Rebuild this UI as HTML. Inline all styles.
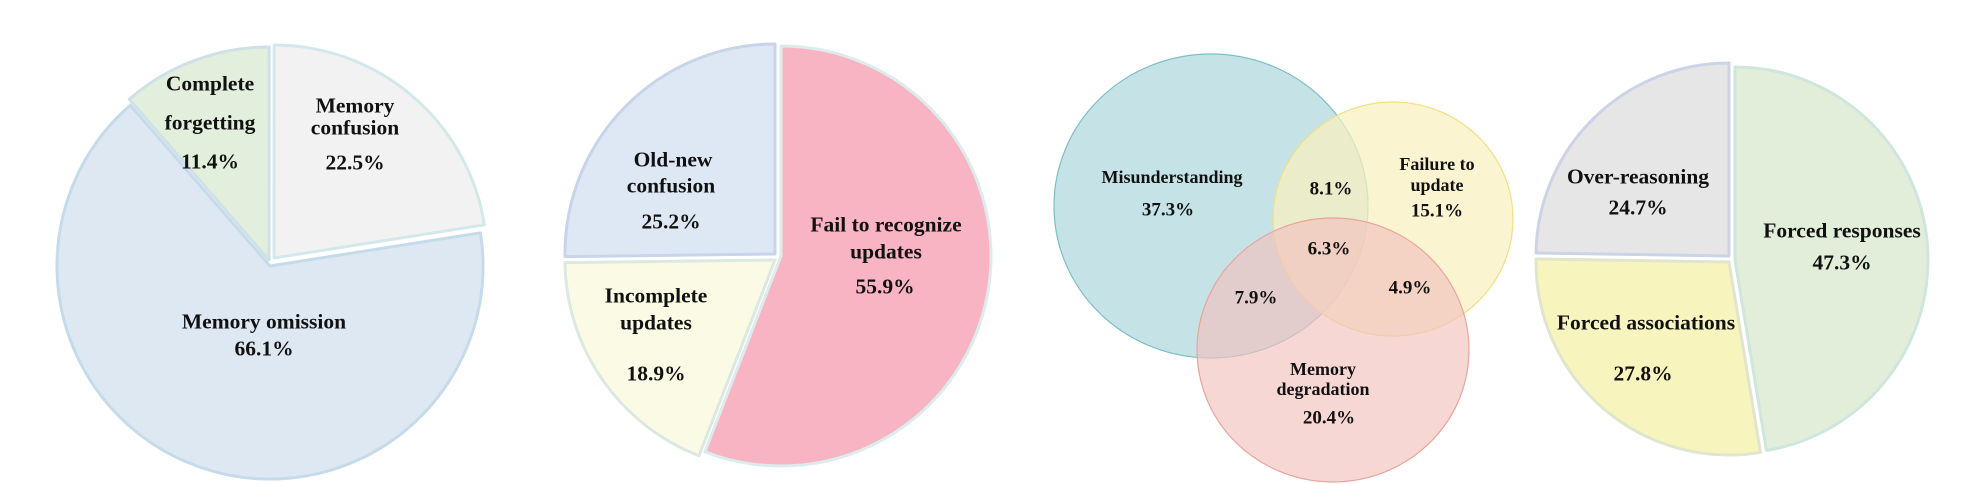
<!DOCTYPE html>
<html><head><meta charset="utf-8">
<style>
html,body{margin:0;padding:0;background:#fff;}
svg{display:block;}
text{font-family:"Liberation Serif",serif;font-weight:bold;fill:#111;text-anchor:middle;}
</style></head>
<body>
<svg id="chart" width="1984" height="484" viewBox="0 0 1984 484" xmlns="http://www.w3.org/2000/svg">
<rect x="0" y="0" width="1984" height="484" fill="#ffffff"/>
<g id="venn">
  <ellipse cx="1211" cy="206" rx="157" ry="152" fill="#b7dce1" fill-opacity="0.8" stroke="#7dbec6" stroke-width="1.2"/>
  <ellipse cx="1393" cy="219" rx="120" ry="117" fill="#f8f0bf" fill-opacity="0.72" stroke="#efdf86" stroke-width="1.2"/>
  <ellipse cx="1333" cy="350" rx="136" ry="132" fill="#f2c2bd" fill-opacity="0.65" stroke="#e8a59c" stroke-width="1.2"/>
</g>
<g id="pies"></g>
<g id="labels"></g>
</svg>
<script>
// Pie 1
const pie1Categories = ["Complete forgetting", "Memory confusion", "Memory omission"];
const pie1Values = [11.4, 22.5, 66.1];
// Pie 2
const pie2Categories = ["Fail to recognize updates", "Incomplete updates", "Old-new confusion"];
const pie2Values = [55.9, 18.9, 25.2];
// Pie 4
const pie4Categories = ["Forced responses", "Forced associations", "Over-reasoning"];
const pie4Values = [47.3, 27.8, 24.7];
// Venn
const vennLabels = ["37.3%", "15.1%", "20.4%", "8.1%", "7.9%", "4.9%", "6.3%"];

const NS = "http://www.w3.org/2000/svg";
const pies = document.getElementById("pies");

function slicePath(cx, cy, r, a0, a1) {
  const p = a => [cx + r * Math.sin(a), cy - r * Math.cos(a)];
  const s = p(a0), e = p(a1);
  const large = (a1 - a0) > Math.PI ? 1 : 0;
  return `M${cx},${cy} L${s[0]},${s[1]} A${r},${r} 0 ${large} 1 ${e[0]},${e[1]} Z`;
}

function drawPie(name, cfg, cats, vals) {
  const total = vals.reduce((a, b) => a + b, 0);
  let a = cfg.start * Math.PI / 180;
  const g = document.createElementNS(NS, "g");
  
  
  pies.appendChild(g);
  vals.forEach((v, i) => {
    const span = v / total * 2 * Math.PI;
    const off = cfg.offsets[i];
    const el = document.createElementNS(NS, "path");
    el.setAttribute("d", slicePath(cfg.cx + off[0], cfg.cy + off[1], cfg.r, a, a + span));
    el.setAttribute("fill", cfg.fills[i]);
    el.setAttribute("stroke", cfg.strokes[i]);
    el.setAttribute("stroke-width", "3");
    el.setAttribute("stroke-linejoin", "round");
    
    
    g.appendChild(el);
    a += span;
  });
}

drawPie("pie-memory-errors", {cx: 270, cy: 261, r: 213, start: -41,
  offsets: [[-1, -1], [4, -3], [0, 5]],
  fills: ["#e2efdc", "#f2f2f2", "#dee8f3"],
  strokes: ["#cfe0e8", "#d3e8ea", "#c6dbea"]}, pie1Categories, pie1Values);

drawPie("pie-update-errors", {cx: 777, cy: 256, r: 210, start: 0,
  offsets: [[4, 0], [-2, 4], [-2, -2]],
  fills: ["#f8b4c3", "#fbfbe5", "#dee8f4"],
  strokes: ["#dcecec", "#dce8e0", "#c8d4ea"]}, pie2Categories, pie2Values);

drawPie("pie-reasoning-errors", {cx: 1731, cy: 258, r: 193, start: 0,
  offsets: [[4, 2], [-2, 4], [-2, -2]],
  fills: ["#e2eed9", "#f8f4bd", "#e6e6e6"],
  strokes: ["#cfe6dc", "#dfe6cc", "#cdd3e6"]}, pie4Categories, pie4Values);

const labelsG = document.getElementById("labels");
function label(name, t, x, y, size) {
  const el = document.createElementNS(NS, "text");
  el.setAttribute("x", x);
  el.setAttribute("y", y + size * 0.34);
  el.setAttribute("font-size", size);
  el.textContent = t;
  
  
  labelsG.appendChild(el);
}
const fmt = v => v.toFixed(1) + "%";
const P = 21.5;
// pie 1
label("label-complete-forgetting", "Complete", 210, 83, P);
label("label-complete-forgetting-2", "forgetting", 210, 122, P);
label("value-complete-forgetting", fmt(pie1Values[0]), 210, 161, P);
label("label-memory-confusion", "Memory", 355, 105, P);
label("label-memory-confusion-2", "confusion", 355, 127, P);
label("value-memory-confusion", fmt(pie1Values[1]), 355, 162, P);
label("label-memory-omission", "Memory omission", 264, 321, P);
label("value-memory-omission", fmt(pie1Values[2]), 264, 348, P);
// pie 2
label("label-old-new", "Old-new", 673, 159, P);
label("label-old-new-2", "confusion", 671, 185, P);
label("value-old-new", fmt(pie2Values[2]), 671, 221, P);
label("label-fail-recognize", "Fail to recognize", 886, 224, P);
label("label-fail-recognize-2", "updates", 886, 251, P);
label("value-fail-recognize", fmt(pie2Values[0]), 885, 286, P);
label("label-incomplete", "Incomplete", 656, 295, P);
label("label-incomplete-2", "updates", 656, 322, P);
label("value-incomplete", fmt(pie2Values[1]), 656, 373, P);
// venn
label("label-misunderstanding", "Misunderstanding", 1172, 177, 18);
label("value-misunderstanding", vennLabels[0], 1168, 209, 19);
label("label-failure-update", "Failure to", 1437, 164, 18);
label("label-failure-update-2", "update", 1437, 185, 18);
label("value-failure-update", vennLabels[1], 1437, 210, 19);
label("label-memory-degradation", "Memory", 1323, 369, 18);
label("label-memory-degradation-2", "degradation", 1323, 389, 18);
label("value-memory-degradation", vennLabels[2], 1329, 417, 19);
label("value-mis-fail", vennLabels[3], 1331, 188, 19);
label("value-mis-deg", vennLabels[4], 1256, 297, 19);
label("value-fail-deg", vennLabels[5], 1410, 287, 19);
label("value-all-three", vennLabels[6], 1329, 248, 19);
// pie 4
label("label-over-reasoning", "Over-reasoning", 1638, 176, P);
label("value-over-reasoning", fmt(pie4Values[2]), 1638, 207, P);
label("label-forced-responses", "Forced responses", 1842, 230, P);
label("value-forced-responses", fmt(pie4Values[0]), 1842, 262, P);
label("label-forced-associations", "Forced associations", 1646, 322, P);
label("value-forced-associations", fmt(pie4Values[1]), 1643, 373, P);
</script>
</body></html>
